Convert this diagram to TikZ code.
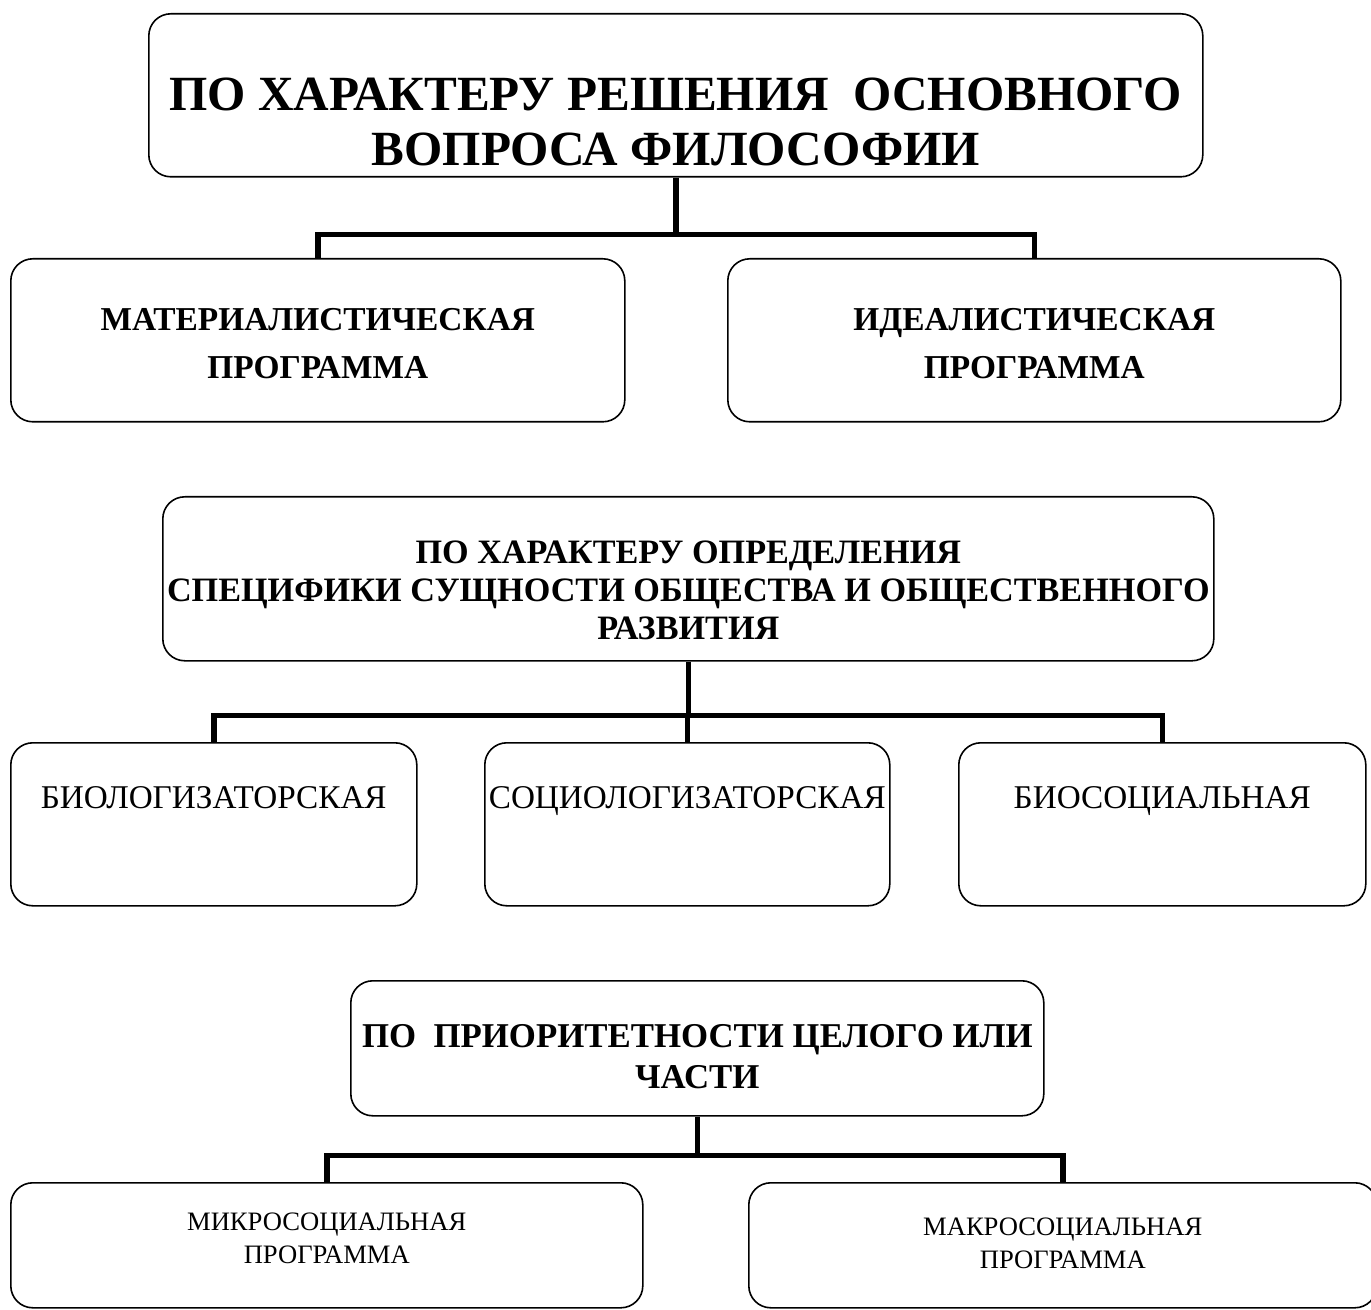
\documentclass[tikz,border=0pt]{standalone}
\usepackage{fontspec}
\setmainfont{Liberation Serif}[BoldFont={Liberation Serif Bold}]
\tikzset{every picture/.style={line width=0.75pt}}
\newcommand{\stackrows}[1]{\begin{tabular}[t]{@{}c@{}}#1\end{tabular}}

\begin{document}
\begin{tikzpicture}[x=0.5pt,y=0.5pt,yscale=-1,xscale=1,
  rbox/.style={draw, rounded corners=11pt, line width=0.8pt, inner sep=0pt, anchor=north west},
  link/.style={line width=2.75pt},
  headline/.style={font=\fontsize{24.6}{27.5}\selectfont\bfseries},
  kindbold/.style={font=\fontsize{16.7}{24}\selectfont\bfseries},
  headbold/.style={font=\fontsize{17.1}{19}\selectfont\bfseries},
  kindplain/.style={font=\fontsize{16.6}{19}\selectfont},
  partbold/.style={font=\fontsize{17.4}{20.5}\selectfont\bfseries},
  progplain/.style={font=\fontsize{13.3}{16.5}\selectfont}]
\useasboundingbox (0,0) rectangle (1371,1310);

%Rounded Rect
\node [rbox, headline, minimum width=527pt, text height=48.5pt, text depth=33pt] (quest) at (148,13) {\stackrows{ПО ХАРАКТЕРУ РЕШЕНИЯ~ ОСНОВНОГО\\ВОПРОСА ФИЛОСОФИИ}};
%Rounded Rect
\node [rbox, kindbold, minimum width=307pt, text height=36pt, text depth=45.5pt] (mater) at (10,258) {\stackrows{МАТЕРИАЛИСТИЧЕСКАЯ\\ПРОГРАММА}};
%Rounded Rect
\node [rbox, kindbold, minimum width=306.5pt, text height=36pt, text depth=45.5pt] (ideal) at (727,258) {\stackrows{ИДЕАЛИСТИЧЕСКАЯ\\ПРОГРАММА}};

%Straight Lines
\draw [link] (quest.south) -- ++(0,57) coordinate (fork1);
\draw [link] (fork1) -| (mater.north);
\draw [link] (fork1) -| (ideal.north);

%Rounded Rect
\node [rbox, headbold, minimum width=525.5pt, text height=33.5pt, text depth=48.5pt] (spec) at (162,496) {\stackrows{ПО ХАРАКТЕРУ ОПРЕДЕЛЕНИЯ\\СПЕЦИФИКИ СУЩНОСТИ ОБЩЕСТВА И ОБЩЕСТВЕННОГО\\РАЗВИТИЯ}};
%Rounded Rect
\node [rbox, kindplain, minimum width=203pt, text height=33pt, text depth=48.5pt] (bio) at (10,742) {БИОЛОГИЗАТОРСКАЯ};
%Rounded Rect
\node [rbox, kindplain, minimum width=202.5pt, text height=33pt, text depth=48.5pt] (socio) at (484,742) {СОЦИОЛОГИЗАТОРСКАЯ};
%Rounded Rect
\node [rbox, kindplain, minimum width=203.5pt, text height=33pt, text depth=48.5pt] (biosoc) at (958,742) {БИОСОЦИАЛЬНАЯ};

%Straight Lines
\draw [link] (spec.south) -- ++(0,54) coordinate (fork2);
\draw [link] (fork2) -| (bio.north);
\draw [link] (fork2) -| (socio.north);
\draw [link] (fork2) -| (biosoc.north);

%Rounded Rect
\node [rbox, partbold, minimum width=346.5pt, text height=33.5pt, text depth=34pt] (prior) at (350,980) {\stackrows{ПО~ ПРИОРИТЕТНОСТИ ЦЕЛОГО ИЛИ\\ЧАСТИ}};
%Rounded Rect
\node [rbox, progplain, minimum width=316pt, text height=24pt, text depth=38.5pt] (micro) at (10,1182) {\stackrows{МИКРОСОЦИАЛЬНАЯ\\ПРОГРАММА}};
%Rounded Rect
\node [rbox, progplain, minimum width=314pt, text height=26.5pt, text depth=36pt] (macro) at (748,1182) {\stackrows{МАКРОСОЦИАЛЬНАЯ\\ПРОГРАММА}};

%Straight Lines
\draw [link] (prior.south) -- ++(0,39) coordinate (fork3);
\draw [link] (fork3) -| (micro.north);
\draw [link] (fork3) -| (macro.north);

\end{tikzpicture}
\end{document}
